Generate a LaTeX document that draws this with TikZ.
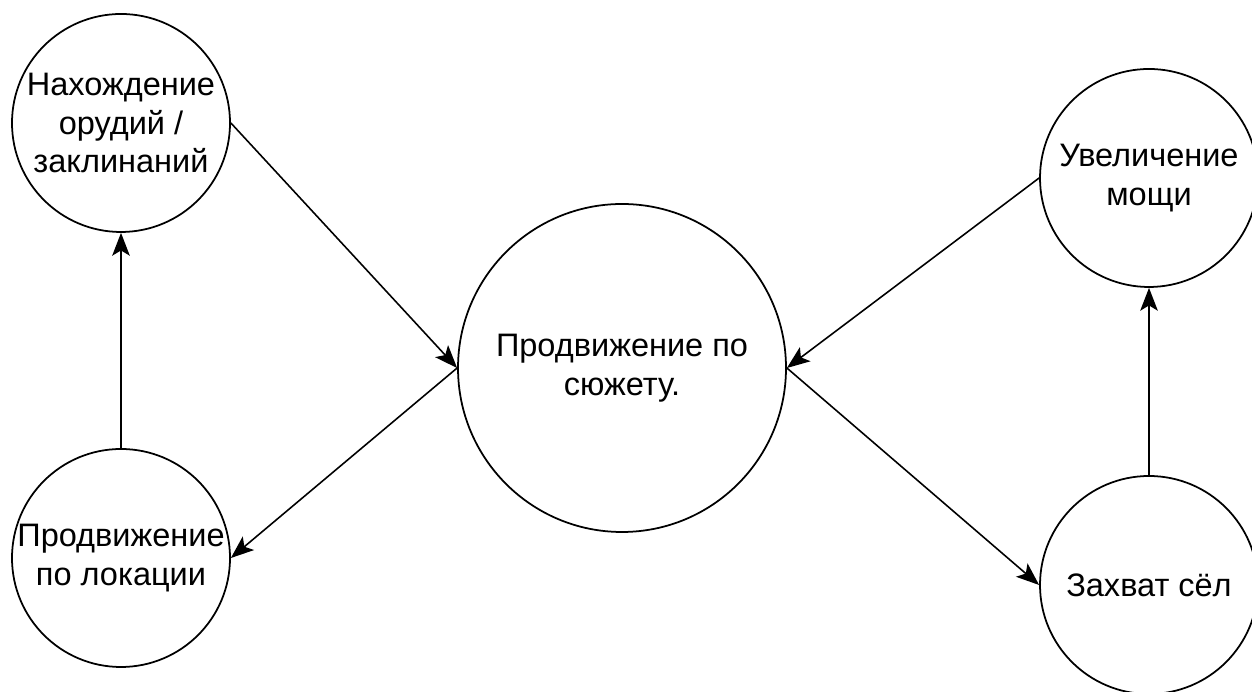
\documentclass[tikz,border=0pt]{standalone}
\usepackage{fontspec}
\setmainfont{Liberation Sans}
\usetikzlibrary{arrows.meta}
\begin{document}
\begin{tikzpicture}[line join=round, >={Stealth[length=13pt,width=10pt,inset=3pt]},
    state/.style={draw, circle, line width=1pt, inner sep=0pt, align=center,
        font=\fontsize{18.5}{22}\selectfont},
    small/.style={state, minimum size=4.36cm},
    big/.style={state, minimum size=6.56cm},
    link/.style={->, line width=0.9pt}]
    \useasboundingbox (0,0) rectangle (25.04,13.84);
    % circles
    \node[small] (find)  at (2.42,11.38) {Нахождение\\орудий /\\заклинаний};
    \node[small] (loc)   at (2.42,2.68)  {Продвижение\\по локации};
    \node[big]   (plot)  at (12.44,6.48) {Продвижение по\\сюжету.};
    \node[small] (power) at (22.98,10.28) {Увеличение\\мощи};
    \node[small] (vill)  at (22.98,2.14) {Захват сёл};
    % arrows
    \draw[link] (find.east) -- (plot.west);
    \draw[link] (plot.west) -- (loc.east);
    \draw[link] (loc.north) -- (find.south);
    \draw[link] (power.west) -- (plot.east);
    \draw[link] (plot.east) -- (vill.west);
    \draw[link] (vill.north) -- (power.south);
\end{tikzpicture}
\end{document}
